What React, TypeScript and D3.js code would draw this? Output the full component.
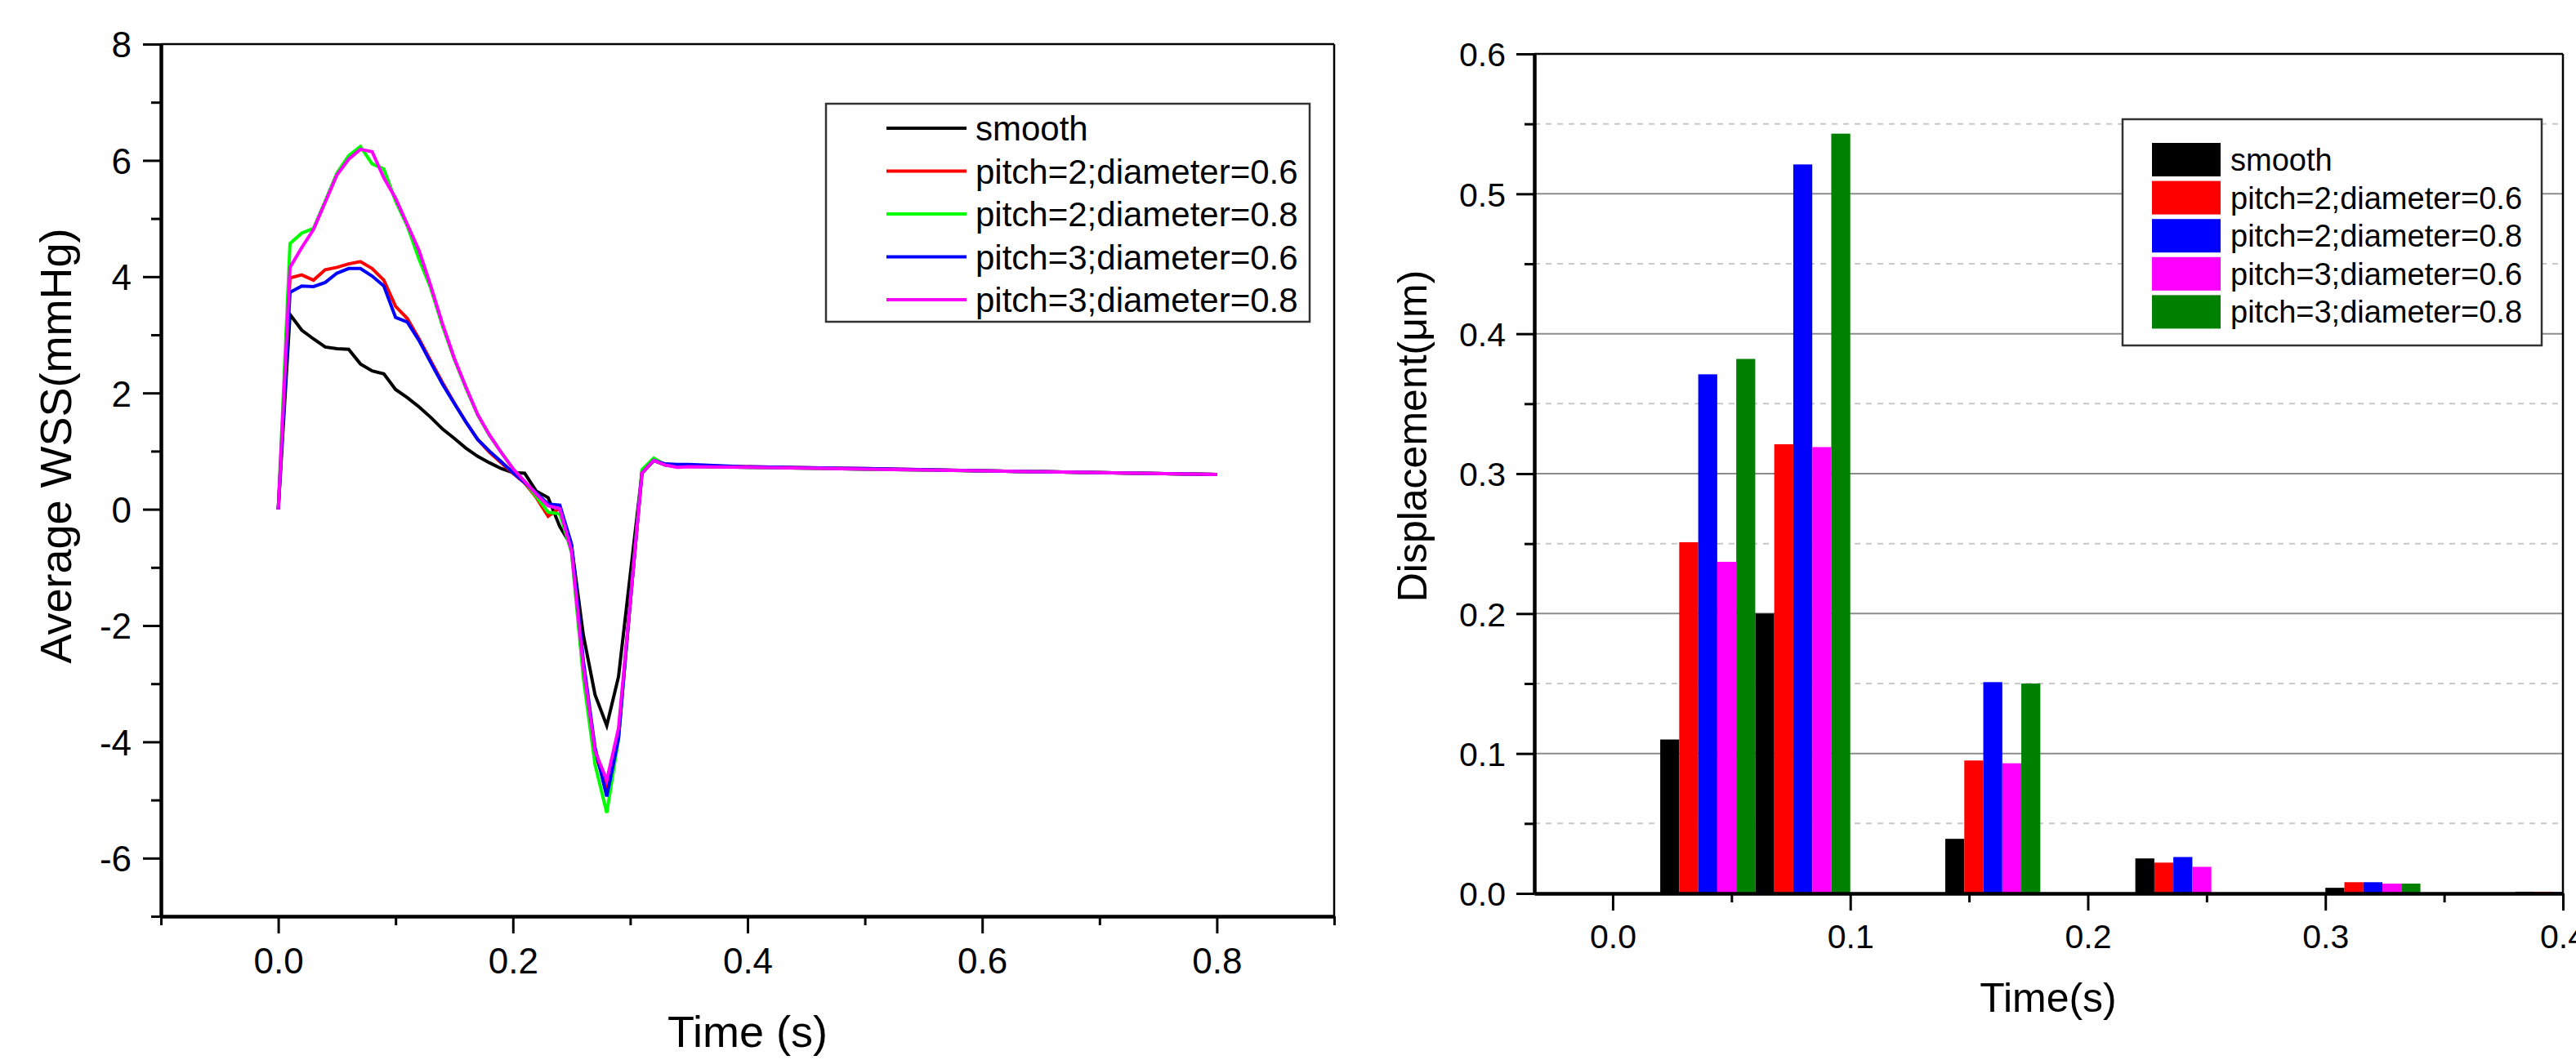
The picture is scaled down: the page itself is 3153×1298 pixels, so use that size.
import React, { useEffect, useRef } from 'react';
import * as d3 from 'd3';

// left chart: average WSS over time
const time = [0, 0.01, 0.02, 0.03, 0.04, 0.05, 0.06, 0.07, 0.08, 0.09, 0.1, 0.11, 0.12, 0.13, 0.14, 0.15, 0.16, 0.17, 0.18, 0.19, 0.2, 0.21, 0.22, 0.23, 0.24, 0.25, 0.26, 0.27, 0.28, 0.29, 0.3, 0.31, 0.32, 0.33, 0.34, 0.35, 0.4, 0.5, 0.6, 0.7, 0.8];
const wssSmooth = [0, 3.35, 3.08, 2.93, 2.79, 2.76, 2.75, 2.5, 2.38, 2.33, 2.06, 1.92, 1.76, 1.58, 1.38, 1.22, 1.05, 0.91, 0.8, 0.7, 0.63, 0.62, 0.31, 0.2, -0.3, -0.63, -2.16, -3.19, -3.72, -2.88, -1.13, 0.62, 0.84, 0.76, 0.74, 0.74, 0.72, 0.69, 0.66, 0.63, 0.6];
const wssP2D06 = [0, 3.98, 4.03, 3.94, 4.12, 4.16, 4.22, 4.26, 4.14, 3.94, 3.49, 3.28, 2.93, 2.55, 2.18, 1.83, 1.5, 1.2, 0.98, 0.8, 0.62, 0.45, 0.2, -0.12, 0.02, -0.7, -2.7, -4.2, -4.8, -3.9, -1.6, 0.65, 0.86, 0.77, 0.76, 0.75, 0.73, 0.7, 0.66, 0.63, 0.6];
const wssP2D08 = [0, 4.57, 4.75, 4.83, 5.3, 5.78, 6.08, 6.24, 5.94, 5.85, 5.3, 4.87, 4.3, 3.8, 3.15, 2.58, 2.08, 1.62, 1.27, 0.98, 0.7, 0.47, 0.22, -0.05, -0.08, -0.75, -2.9, -4.39, -5.22, -3.95, -1.6, 0.68, 0.88, 0.76, 0.74, 0.74, 0.72, 0.69, 0.66, 0.63, 0.6];
const wssP3D06 = [0, 3.73, 3.84, 3.83, 3.9, 4.06, 4.14, 4.14, 4.01, 3.84, 3.3, 3.22, 2.9, 2.52, 2.15, 1.82, 1.5, 1.2, 1.0, 0.82, 0.63, 0.46, 0.28, 0.09, 0.07, -0.6, -2.6, -4.1, -4.94, -3.94, -1.6, 0.62, 0.84, 0.78, 0.77, 0.77, 0.73, 0.7, 0.66, 0.63, 0.6];
const wssP3D08 = [0, 4.16, 4.5, 4.81, 5.28, 5.75, 6.02, 6.19, 6.15, 5.7, 5.35, 4.9, 4.45, 3.84, 3.19, 2.6, 2.1, 1.63, 1.28, 0.98, 0.7, 0.48, 0.26, 0.06, 0.01, -0.72, -2.71, -4.16, -4.66, -3.77, -1.6, 0.62, 0.84, 0.76, 0.72, 0.73, 0.72, 0.69, 0.66, 0.63, 0.6];

const seriesNames = ['smooth', 'pitch=2;diameter=0.6', 'pitch=2;diameter=0.8', 'pitch=3;diameter=0.6', 'pitch=3;diameter=0.8'];
const lineColors = ['#000000', '#ff0000', '#00ff00', '#0000ff', '#ff00ff'];

// right chart: displacement bars
const barTimes = [0, 0.04, 0.08, 0.16, 0.24, 0.32, 0.4];
const dispSmooth = [0, 0.11, 0.2, 0.039, 0.025, 0.004, 0.0012];
const dispP2D06 = [0, 0.251, 0.321, 0.095, 0.022, 0.008, 0.0012];
const dispP2D08 = [0, 0.371, 0.521, 0.151, 0.026, 0.008, 0.001];
const dispP3D06 = [0, 0.237, 0.319, 0.093, 0.019, 0.007, 0.001];
const dispP3D08 = [0, 0.382, 0.543, 0.15, 0, 0.007, 0.001];
const barColors = ['#000000', '#ff0000', '#0000ff', '#ff00ff', '#008000'];

const leftMajorY = [-6, -4, -2, 0, 2, 4, 6, 8];
const leftMinorY = [-7, -5, -3, -1, 1, 3, 5, 7];
const leftMajorX = [0, 0.2, 0.4, 0.6, 0.8];
const leftMinorX = [-0.1, 0.1, 0.3, 0.5, 0.7, 0.9];
const rightMajorY = [0, 0.1, 0.2, 0.3, 0.4, 0.5, 0.6];
const rightMinorY = [0.05, 0.15, 0.25, 0.35, 0.45, 0.55];
const rightMajorX = [0, 0.1, 0.2, 0.3, 0.4];
const rightMinorX = [0.05, 0.15, 0.25, 0.35];

const FONT = '"Liberation Sans", Arial, sans-serif';

function styleAxis(g: any, size: number, width: number) {
  g.select('.domain').attr('stroke', '#000').attr('stroke-width', width);
  g.selectAll('.tick line').attr('stroke', '#000').attr('stroke-width', 3);
  g.selectAll('.tick text').attr('font-family', FONT).attr('font-size', size).attr('fill', '#000');
}

function drawAxes(svg: any, x: any, y: any, o: any) {
  const [x0, x1] = x.range();
  const [y0, y1] = y.range();
  // box top + right
  svg.append('line').attr('x1', x0).attr('x2', x1).attr('y1', y1).attr('y2', y1)
    .attr('stroke', '#000').attr('stroke-width', 2.5);
  svg.append('line').attr('x1', x1).attr('x2', x1).attr('y1', y1).attr('y2', y0)
    .attr('stroke', '#000').attr('stroke-width', 2.5);

  const yMin = svg.append('g').attr('transform', `translate(${x0},0)`)
    .call(d3.axisLeft(y).tickValues(o.minorY).tickSize(12).tickSizeOuter(0).tickFormat(() => ''));
  styleAxis(yMin, o.tickFont, 4);
  const yMaj = svg.append('g').attr('transform', `translate(${x0},0)`)
    .call(d3.axisLeft(y).tickValues(o.majorY).tickSize(22).tickSizeOuter(0).tickPadding(o.yPad).tickFormat(o.yFmt));
  styleAxis(yMaj, o.tickFont, 4);
  yMaj.selectAll('.tick text').attr('dy', '0.36em');

  const xMin = svg.append('g').attr('transform', `translate(0,${y0})`)
    .call(d3.axisBottom(x).tickValues(o.minorX).tickSize(11).tickSizeOuter(0).tickFormat(() => ''));
  styleAxis(xMin, o.tickFont, 4);
  const xMaj = svg.append('g').attr('transform', `translate(0,${y0})`)
    .call(d3.axisBottom(x).tickValues(o.majorX).tickSize(21).tickSizeOuter(0).tickPadding(o.xPad).tickFormat(d3.format('.1f')));
  styleAxis(xMaj, o.tickFont, 4);
  xMaj.selectAll('.tick text').attr('dy', '0.72em');
}

function drawText(g: any, x: number, y: number, size: number, text: string, rotate = false) {
  const t = g.append('text')
    .attr('font-family', FONT)
    .attr('font-size', size)
    .attr('fill', '#000')
    .attr('text-anchor', 'middle')
    .text(text);
  if (rotate) t.attr('transform', `translate(${x},${y}) rotate(-90)`);
  else t.attr('x', x).attr('y', y);
}

export default function App() {
  const ref = useRef<SVGSVGElement>(null);

  useEffect(() => {
    const svg = d3.select(ref.current);
    svg.selectAll('*').remove();

    // ---------- left: line chart ----------
    const xL = d3.scaleLinear().domain([-0.1, 0.9]).range([197, 1633]);
    const yL = d3.scaleLinear().domain([-7, 8]).range([1122, 54]);
    const wss = [wssSmooth, wssP2D06, wssP2D08, wssP3D06, wssP3D08];
    const line = d3.line<number>().x((d, i) => xL(time[i])).y(d => yL(d));

    wss.forEach((vals, i) => {
      svg.append('path')
        .attr('d', line(vals))
        .attr('fill', 'none')
        .attr('stroke', lineColors[i])
        .attr('stroke-width', 4);
    });

    drawAxes(svg, xL, yL, {
      minorY: leftMinorY, majorY: leftMajorY, minorX: leftMinorX, majorX: leftMajorX,
      tickFont: 44, yPad: 14, xPad: 17, yFmt: (d: number) => String(d)
    });

    const legL = svg.append('g');
    legL.append('rect').attr('x', 1011).attr('y', 127).attr('width', 592).attr('height', 267)
      .attr('fill', '#fff').attr('stroke', '#333').attr('stroke-width', 2.5);
    seriesNames.forEach((name, i) => {
      const cy = 157 + i * 52.5;
      legL.append('line').attr('x1', 1085).attr('x2', 1183).attr('y1', cy).attr('y2', cy)
        .attr('stroke', lineColors[i]).attr('stroke-width', 4);
      legL.append('text').attr('x', 1194).attr('y', cy + 15)
        .attr('font-family', FONT).attr('font-size', 42).attr('fill', '#000').text(name);
    });

    drawText(svg, 87, 546, 54, 'Average WSS(mmHg)', true);
    drawText(svg, 915, 1282, 54, 'Time (s)');

    // ---------- right: grouped bars ----------
    const xR = d3.scaleLinear().domain([-0.033, 0.4]).range([1878, 3137]);
    const yR = d3.scaleLinear().domain([0, 0.6]).range([1094, 66]);
    const disp = [dispSmooth, dispP2D06, dispP2D08, dispP3D06, dispP3D08];
    const groupW = 0.04;
    const inner = d3.scaleBand<number>().domain(d3.range(disp.length))
      .range([0, xR(groupW) - xR(0)]);

    // grid
    svg.append('g').selectAll('line').data(rightMinorY).enter().append('line')
      .attr('x1', xR.range()[0]).attr('x2', xR.range()[1])
      .attr('y1', d => yR(d)).attr('y2', d => yR(d))
      .attr('stroke', '#c8c8c8').attr('stroke-width', 2).attr('stroke-dasharray', '7,7');
    svg.append('g').selectAll('line').data(rightMajorY.slice(1, -1)).enter().append('line')
      .attr('x1', xR.range()[0]).attr('x2', xR.range()[1])
      .attr('y1', d => yR(d)).attr('y2', d => yR(d))
      .attr('stroke', '#8c8c8c').attr('stroke-width', 2);

    svg.append('clipPath').attr('id', 'barClip').append('rect')
      .attr('x', xR.range()[0]).attr('y', 0)
      .attr('width', xR.range()[1] - xR.range()[0]).attr('height', 1200);

    const bars = svg.append('g').attr('clip-path', 'url(#barClip)');
    disp.forEach((vals, s) => {
      bars.selectAll(`.bar${s}`).data(vals).enter().append('rect')
        .attr('class', `bar${s}`)
        .attr('x', (d, i) => xR(barTimes[i] - groupW / 2) + (inner(s) as number))
        .attr('width', inner.bandwidth())
        .attr('y', d => yR(d))
        .attr('height', d => yR(0) - yR(d))
        .attr('fill', barColors[s]);
    });

    drawAxes(svg, xR, yR, {
      minorY: rightMinorY, majorY: rightMajorY, minorX: rightMinorX, majorX: rightMajorX,
      tickFont: 41, yPad: 13, xPad: 16, yFmt: d3.format('.1f')
    });

    const legR = svg.append('g');
    legR.append('rect').attr('x', 2598).attr('y', 146).attr('width', 513).attr('height', 277)
      .attr('fill', '#fff').attr('stroke', '#333').attr('stroke-width', 2.5);
    seriesNames.forEach((name, i) => {
      const top = 175 + i * 46.6;
      legR.append('rect').attr('x', 2634).attr('y', top).attr('width', 84).attr('height', 41)
        .attr('fill', barColors[i]);
      legR.append('text').attr('x', 2730).attr('y', top + 34)
        .attr('font-family', FONT).attr('font-size', 38).attr('fill', '#000').text(name);
    });

    drawText(svg, 1746, 534, 50, 'Displacement(\u03bcm)', true);
    drawText(svg, 2507, 1239, 50, 'Time(s)');
  }, []);

  return (
    <svg ref={ref} width={3153} height={1298}
      style={{ position: 'absolute', left: 0, top: 0, background: '#fff' }} />
  );
}
